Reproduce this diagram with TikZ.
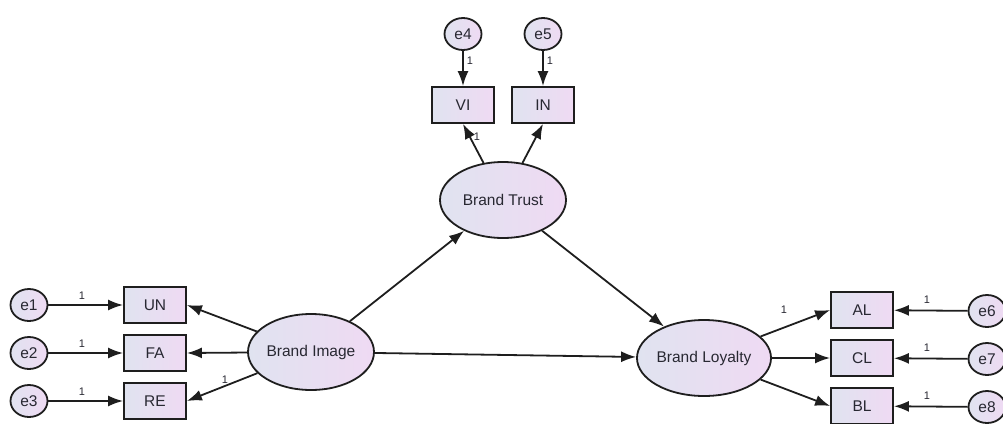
\documentclass[tikz,border=0pt]{standalone}
\usepackage{fontspec}
\setmainfont{Liberation Sans}
\usetikzlibrary{shapes.geometric,arrows.meta}
\definecolor{fillL}{RGB}{224,227,240}
\definecolor{fillR}{RGB}{239,218,243}
\definecolor{ink}{RGB}{30,30,30}
\definecolor{txt}{RGB}{40,40,50}
\tikzset{
  latent/.style={ellipse,draw=ink,line width=1.8pt,left color=fillL,right color=fillR,
    minimum width=126,minimum height=76,inner sep=0pt,text=txt,
    font=\fontsize{15.5}{17}\selectfont},
  errvar/.style={ellipse,draw=ink,line width=1.8pt,left color=fillL,right color=fillR,
    minimum width=37,minimum height=32,inner sep=0pt,text=txt,
    font=\fontsize{15.5}{17}\selectfont},
  indicator/.style={rectangle,draw=ink,line width=1.8pt,left color=fillL,right color=fillR,
    minimum width=62,minimum height=36,inner sep=0pt,text=txt,
    font=\fontsize{15.5}{17}\selectfont},
  path/.style={draw=ink,line width=1.8pt,-{Latex[length=15pt,width=11pt]}},
  wt/.style={text=txt,font=\fontsize{11}{12}\selectfont,inner sep=0pt},
}
\begin{document}
\begin{tikzpicture}[x=1pt,y=-1pt]
\useasboundingbox (0,0) rectangle (1003,423);

% latent constructs
\node[latent] (BI) at (311,352) {Brand Image};
\node[latent] (BT) at (503,200) {Brand Trust};
\node[latent] (BL) at (704,358) {Brand Loyalty};

% indicators of Brand Image
\node[indicator] (UN) at (155,305) {UN};
\node[indicator] (FA) at (155,353) {FA};
\node[indicator] (RE) at (155,401) {RE};
\node[errvar] (e1) at (29,305) {e1};
\node[errvar] (e2) at (29,353) {e2};
\node[errvar] (e3) at (29,401) {e3};

% indicators of Brand Trust
\node[indicator] (VI) at (463,105) {VI};
\node[indicator] (IN) at (543,105) {IN};
\node[errvar] (e4) at (463,34) {e4};
\node[errvar] (e5) at (543,34) {e5};

% indicators of Brand Loyalty
\node[indicator] (AL) at (862,310) {AL};
\node[indicator] (CL) at (862,358) {CL};
\node[indicator] (BLy) at (862,406) {BL};
\node[errvar] (e6) at (987,311) {e6};
\node[errvar] (e7) at (987,359) {e7};
\node[errvar] (e8) at (987,407) {e8};

% error terms
\draw[path] (e1) -- (UN);
\draw[path] (e2) -- (FA);
\draw[path] (e3) -- (RE);
\draw[path] (e4) -- (VI);
\draw[path] (e5) -- (IN);
\draw[path] (e6) -- (AL);
\draw[path] (e7) -- (CL);
\draw[path] (e8) -- (BLy);

% loadings
\draw[path] (BI) -- (UN.east);
\draw[path] (BI) -- (FA.east);
\draw[path] (BI) -- (RE.east);
\draw[path] (BT) -- (VI.south);
\draw[path] (BT) -- (IN.south);
\draw[path] (BL) -- (AL.west);
\draw[path] (BL) -- (CL.west);
\draw[path] (BL) -- (BLy.west);

% structural paths
\draw[path] (BI) -- (BT);
\draw[path] (BT) -- (BL);
\draw[path] (BI) -- (BL);

% fixed weights
\node[wt] (w1) at (82,296) {1};
\node[wt] (w2) at (82,344) {1};
\node[wt] (w3) at (82,392) {1};
\node[wt] (w4) at (470,61) {1};
\node[wt] (w5) at (550,61) {1};
\node[wt] (w6) at (927,300) {1};
\node[wt] (w7) at (927,348) {1};
\node[wt] (w8) at (927,396) {1};
\node[wt] (wRE) at (225,380) {1};
\node[wt] (wVI) at (477,137) {1};
\node[wt] (wAL) at (784,310) {1};
\end{tikzpicture}
\end{document}
